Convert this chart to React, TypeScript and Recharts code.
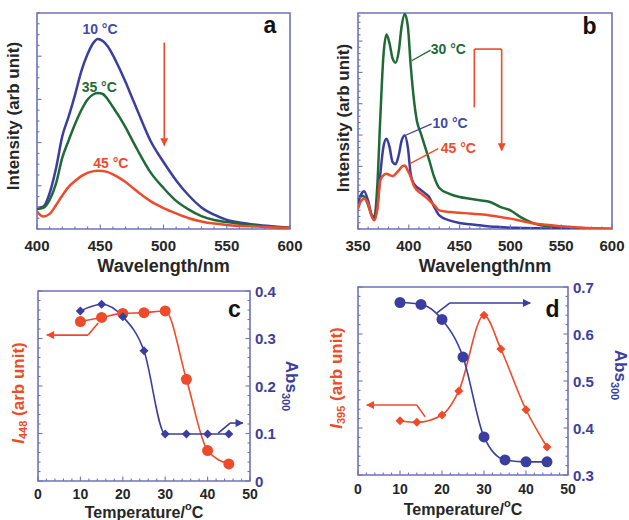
import React from "react";
import { LineChart, Line, XAxis, YAxis, ReferenceLine, ReferenceDot, ReferenceArea, Label } from "recharts";

const FONT = "'Liberation Sans', Arial, Helvetica, sans-serif";
const FRAME = "#6f72bd";
const INK = "#262626";
const BLUE = "#3b3e9f";
const GREEN = "#1f6a36";
const RED = "#ee4b2b";

// panel a: emission spectra (10, 35, 45 °C)
const aWave = [400, 405, 410, 415, 420, 425, 430, 435, 440, 445, 448, 452, 456, 460, 465, 470, 475, 480, 490, 500, 510, 520, 530, 540, 550, 560, 575, 590, 600];
const aT10 = [9.7, 10.4, 16.6, 28, 43, 52, 62, 73, 81, 86.5, 88, 87, 84.5, 80.5, 74.5, 68, 61, 54, 40.5, 31, 22.5, 15.5, 10, 6.6, 4.2, 3, 1.8, 1, 0.6];
const aT35 = [9.2, 9.8, 13.5, 21, 33, 41, 48.5, 55, 60, 62.5, 63, 62.5, 60, 56.5, 52, 47, 41.5, 36, 26, 19, 13, 9, 6, 4.2, 3.2, 2.4, 1.5, 0.8, 0.5];
const aT45 = [8.1, 5.8, 7, 11, 15.5, 19.5, 22.2, 24.5, 26, 26.8, 27, 26.9, 26.3, 25.3, 23.7, 21.8, 19.4, 17, 12.8, 9.7, 7.2, 5, 3.5, 2.5, 1.9, 1.5, 1.1, 0.7, 0.5];

// panel b: emission spectra (30, 10, 45 °C)
const bWave = [350, 353, 356, 360, 363, 366, 369, 372, 375, 378, 381, 384, 387, 390, 393, 396, 399, 402, 405, 408, 412, 416, 420, 425, 430, 440, 450, 460, 470, 480, 490, 500, 510, 520, 530, 540, 550, 560, 580, 600];
const bT30 = [13.3, 15.5, 15, 11, 7, 5.5, 20, 52, 80, 90, 86, 79, 77, 82, 94, 99.5, 94, 75, 60, 50, 44, 38, 32, 24, 19, 16.3, 14.8, 14, 13.3, 12.5, 10.2, 8.6, 5.5, 3.2, 1.7, 1.2, 0.9, 0.6, 0.3, 0];
const bT10 = [11.7, 16, 17.5, 13, 7, 4.8, 10, 25.6, 38, 41.8, 38, 31, 30, 34, 41, 43.3, 38, 25, 21, 19.4, 18, 16.5, 14.8, 10.2, 6.3, 4, 2.8, 2.2, 1.7, 1.2, 0.9, 0.6, 0.5, 0.4, 0.3, 0.2, 0.2, 0.1, 0, 0];
const bT45 = [9.4, 13, 14, 11.7, 6.5, 4, 9, 22.5, 24.8, 25.6, 25, 24.5, 25.5, 27, 28.8, 29.4, 27, 24, 20, 18, 16.5, 15, 13.3, 11, 8.6, 7.9, 7.5, 7.2, 6.8, 6.3, 5.6, 4.8, 3.8, 2.8, 2.2, 1.7, 1.3, 0.9, 0.4, 0];

// panel c
const cTemp = [10, 15, 20, 25, 30, 35, 40, 45];
const cAbs300 = [0.358, 0.372, 0.346, 0.274, 0.099, 0.099, 0.099, 0.099];
const cI448 = [83.9, 86.1, 88.2, 88.6, 89.5, 53.5, 16, 9];

// panel d
const dTempAbs = [10, 15, 20, 25, 30, 35, 40, 45];
const dAbs300 = [0.667, 0.663, 0.631, 0.551, 0.381, 0.332, 0.328, 0.328];
const dTempI = [10, 14, 20, 24, 30, 34, 40, 45];
const dI395 = [28.9, 28, 31.9, 44.7, 85, 67, 34.7, 14.9];

// tick positions
const aXMajor = [400, 450, 500, 550, 600];
const bXMajor = [350, 400, 450, 500, 550, 600];
const tXMajor = [0, 10, 20, 30, 40, 50];
const aYMajor = [20, 40, 60, 80];
const bYMajor = [14.5, 29, 43.5, 58, 72.5, 87];
const iMajor = [0, 25, 50, 75, 100];
const cAbsMajor = [0, 0.1, 0.2, 0.3, 0.4];
const dAbsMajor = [0.3, 0.4, 0.5, 0.6, 0.7];

const steps = (a: number, b: number, s: number) => {
  const out: number[] = [];
  for (let v = a; v <= b + 1e-9; v += s) out.push(Math.round(v * 1000) / 1000);
  return out;
};

const aXTicks = steps(400, 600, 10);
const bXTicks = steps(350, 600, 10);
const tXTicks = steps(0, 50, 2);
const aYTicks = steps(0, 100, 5);
const bYTicks = steps(0, 99, 2.9);
const iTicks = steps(0, 100, 5);
const cAbsTicks = steps(0, 0.4, 0.02);
const dAbsTicks = steps(0.3, 0.7, 0.02);

const aRows = aWave.map((w, i) => ({ w, t10: aT10[i], t35: aT35[i], t45: aT45[i] }));
const bRows = bWave.map((w, i) => ({ w, t30: bT30[i], t10: bT10[i], t45: bT45[i] }));
const cAbsRows = cTemp.map((t, i) => ({ t, v: cAbs300[i] }));
const cIRows = cTemp.map((t, i) => ({ t, v: cI448[i] }));
const dAbsRows = dTempAbs.map((t, i) => ({ t, v: dAbs300[i] }));
const dIRows = dTempI.map((t, i) => ({ t, v: dI395[i] }));

type Side = "bottom" | "top" | "left" | "right";
type TickCfg = { side: Side; major: number[]; label?: boolean; gap?: number; color?: string; size?: number; fmt?: (v: number) => string };

const frameTick = (cfg: TickCfg) => (p: any) => {
  const { x, y, payload, index } = p;
  const v = Number(payload.value);
  const big = cfg.major.some((m) => Math.abs(m - v) < 1e-6);
  const len = big ? 4.5 : 2.5;
  const dx = cfg.side === "left" ? len : cfg.side === "right" ? -len : 0;
  const dy = cfg.side === "bottom" ? -len : cfg.side === "top" ? len : 0;
  const txt = cfg.fmt ? cfg.fmt(v) : String(v);
  const show = cfg.label && big;
  const fs = cfg.size ?? 15;
  return (
    <g key={`tk-${index}`}>
      <line x1={x} y1={y} x2={x + dx} y2={y + dy} stroke={FRAME} strokeWidth={1.1} />
      {show && cfg.side === "bottom" && (
        <text x={x} y={y + (cfg.gap ?? 16)} textAnchor="middle" dominantBaseline="central" fill={cfg.color ?? INK} fontSize={fs} fontWeight={700} fontFamily={FONT}>
          {txt}
        </text>
      )}
      {show && cfg.side === "right" && (
        <text x={x + (cfg.gap ?? 5)} y={y} textAnchor="start" dominantBaseline="central" fill={cfg.color ?? INK} fontSize={fs} fontWeight={700} fontFamily={FONT}>
          {txt}
        </text>
      )}
    </g>
  );
};

const axisBase = {
  type: "number" as const,
  tickSize: 0,
  tickMargin: 0,
  interval: 0 as const,
  tickLine: false,
  axisLine: false,
  allowDataOverflow: true,
};

const xTitle = (body: React.ReactNode, dy: number, size: number) => (p: any) => {
  const vb = p.viewBox;
  return (
    <text x={vb.x + vb.width / 2} y={vb.y + dy} textAnchor="middle" dominantBaseline="central" fill={INK} fontSize={size} fontWeight={700} fontFamily={FONT}>
      {body}
    </text>
  );
};

const yTitle = (body: React.ReactNode, dx: number, cy: number, color: string, rot: number) => (p: any) => {
  const vb = p.viewBox;
  const x = vb.x + dx;
  return (
    <text transform={`translate(${x},${cy}) rotate(${rot})`} textAnchor="middle" dominantBaseline="central" fill={color} fontSize={17} fontWeight={700} fontFamily={FONT}>
      {body}
    </text>
  );
};

const tag = (text: string, color: string, size = 14) => (p: any) => {
  const vb = p.viewBox;
  const cx = vb.x + vb.width / 2;
  const cy = vb.y + vb.height / 2;
  return (
    <text x={cx} y={cy} textAnchor="middle" dominantBaseline="central" fill={color} fontSize={size} fontWeight={700} fontFamily={FONT}>
      {text}
    </text>
  );
};

const seg = (color: string, head: boolean, w = 1.6) => (p: any) => (
  <line x1={p.x1} y1={p.y1} x2={p.x2} y2={p.y2} stroke={color} strokeWidth={w} markerEnd={head ? `url(#head-${color === RED ? "r" : "b"})` : undefined} />
);

const diamond = (color: string, s: number) => (p: any) => (
  <path key={`dm-${p.index}`} d={`M${p.cx},${p.cy - s}L${p.cx + s},${p.cy}L${p.cx},${p.cy + s}L${p.cx - s},${p.cy}Z`} fill={color} />
);

const tempTitle = (
  <>
    Temperature/<tspan dy={-6} fontSize={11}>o</tspan>
    <tspan dy={6}>C</tspan>
  </>
);

const absTitle = (
  <>
    Abs<tspan dy={5} fontSize={11}>300</tspan>
  </>
);

const iTitle = (sub: string) => (
  <>
    <tspan fontStyle="italic">I</tspan>
    <tspan dy={5} fontSize={11}>{sub}</tspan>
    <tspan dy={-5}> (arb unit)</tspan>
  </>
);

const fmtAbs = (v: number) => (v === 0 ? "0" : v.toFixed(1));

const box = (left: number, top: number): React.CSSProperties => ({ position: "absolute", left, top });

export default function App() {
  return (
    <div style={{ position: "absolute", left: 0, top: 0, width: 629, height: 520, background: "#fff", overflow: "hidden" }}>
      <svg width={0} height={0} style={{ position: "absolute" }}>
        <defs>
          <marker id="head-r" viewBox="0 0 10 10" refX="9" refY="5" markerWidth="5.5" markerHeight="5" orient="auto">
            <path d="M0,0 L10,5 L0,10 z" fill={RED} />
          </marker>
          <marker id="head-b" viewBox="0 0 10 10" refX="9" refY="5" markerWidth="5.5" markerHeight="5" orient="auto">
            <path d="M0,0 L10,5 L0,10 z" fill={BLUE} />
          </marker>
        </defs>
      </svg>

      {/* a */}
      <div style={box(0, 0)}>
        <LineChart width={315} height={280} data={aRows} margin={{ top: 13, right: 25, left: 0, bottom: 0 }}>
          <XAxis dataKey="w" domain={[400, 600]} ticks={aXTicks} height={51} tick={frameTick({ side: "bottom", major: aXMajor, label: true, gap: 16 })} {...axisBase}>
            <Label content={xTitle("Wavelength/nm", 37, 18)} />
          </XAxis>
          <XAxis xAxisId="t" orientation="top" dataKey="w" domain={[400, 600]} ticks={aXTicks} height={0} tick={frameTick({ side: "top", major: aXMajor })} {...axisBase} />
          <YAxis domain={[0, 100]} ticks={aYTicks} width={37} tick={frameTick({ side: "left", major: aYMajor })} {...axisBase}>
            <Label content={yTitle("Intensity (arb unit)", 13, 116, INK, -90)} />
          </YAxis>
          <YAxis yAxisId="r" orientation="right" domain={[0, 100]} ticks={aYTicks} width={0} tick={frameTick({ side: "right", major: aYMajor })} {...axisBase} />
          <ReferenceArea x1={400} x2={600} y1={0} y2={100} fill="none" stroke={FRAME} strokeWidth={1.6} />
          <Line dataKey="t10" type="monotone" stroke={BLUE} strokeWidth={2.5} dot={false} isAnimationActive={false} />
          <Line dataKey="t35" type="monotone" stroke={GREEN} strokeWidth={2.5} dot={false} isAnimationActive={false} />
          <Line dataKey="t45" type="monotone" stroke={RED} strokeWidth={2.5} dot={false} isAnimationActive={false} />
          <ReferenceLine segment={[{ x: 500.6, y: 86.3 }, { x: 500.6, y: 38.7 }]} shape={seg(RED, true)} />
          <ReferenceDot x={449.8} y={92.6} r={0} fill="none" stroke="none" label={{ content: tag("10 °C", "#4548ad") }} />
          <ReferenceDot x={449.2} y={65.7} r={0} fill="none" stroke="none" label={{ content: tag("35 °C", GREEN) }} />
          <ReferenceDot x={458.4} y={30.4} r={0} fill="none" stroke="none" label={{ content: tag("45 °C", RED) }} />
          <ReferenceDot x={584.2} y={94.5} r={0} fill="none" stroke="none" label={{ content: tag("a", "#111", 23) }} />
        </LineChart>
      </div>

      {/* b */}
      <div style={box(315, 0)}>
        <LineChart width={314} height={280} data={bRows} margin={{ top: 13, right: 17, left: 0, bottom: 0 }}>
          <XAxis dataKey="w" domain={[350, 600]} ticks={bXTicks} height={51} tick={frameTick({ side: "bottom", major: bXMajor, label: true, gap: 16 })} {...axisBase}>
            <Label content={xTitle("Wavelength/nm", 37, 18)} />
          </XAxis>
          <XAxis xAxisId="t" orientation="top" dataKey="w" domain={[350, 600]} ticks={bXTicks} height={0} tick={frameTick({ side: "top", major: bXMajor })} {...axisBase} />
          <YAxis domain={[0, 100]} ticks={bYTicks} width={43} tick={frameTick({ side: "left", major: bYMajor })} {...axisBase}>
            <Label content={yTitle("Intensity (arb unit)", 28, 118, INK, -90)} />
          </YAxis>
          <YAxis yAxisId="r" orientation="right" domain={[0, 100]} ticks={bYTicks} width={0} tick={frameTick({ side: "right", major: bYMajor })} {...axisBase} />
          <ReferenceArea x1={350} x2={600} y1={0} y2={100} fill="none" stroke={FRAME} strokeWidth={1.6} />
          <Line dataKey="t30" type="monotone" stroke={GREEN} strokeWidth={2.5} dot={false} isAnimationActive={false} />
          <Line dataKey="t10" type="monotone" stroke={BLUE} strokeWidth={2.5} dot={false} isAnimationActive={false} />
          <Line dataKey="t45" type="monotone" stroke={RED} strokeWidth={2.5} dot={false} isAnimationActive={false} />
          <ReferenceLine segment={[{ x: 402.8, y: 77.9 }, { x: 421.5, y: 82.8 }]} shape={seg(GREEN, false, 1.3)} />
          <ReferenceLine segment={[{ x: 396.3, y: 43.3 }, { x: 422.5, y: 48.7 }]} shape={seg(BLUE, false, 1.3)} />
          <ReferenceLine segment={[{ x: 401.2, y: 30.3 }, { x: 429, y: 37.2 }]} shape={seg(RED, false, 1.3)} />
          <ReferenceLine segment={[{ x: 464.5, y: 56.3 }, { x: 464.5, y: 83.3 }]} shape={seg(RED, false)} />
          <ReferenceLine segment={[{ x: 464.5, y: 83.3 }, { x: 491.4, y: 83.3 }]} shape={seg(RED, false)} />
          <ReferenceLine segment={[{ x: 491.4, y: 83.3 }, { x: 491.4, y: 36.4 }]} shape={seg(RED, true)} />
          <ReferenceDot x={438.9} y={83.4} r={0} fill="none" stroke="none" label={{ content: tag("30 °C", GREEN) }} />
          <ReferenceDot x={440.6} y={49.1} r={0} fill="none" stroke="none" label={{ content: tag("10 °C", "#4548ad") }} />
          <ReferenceDot x={448.7} y={37.3} r={0} fill="none" stroke="none" label={{ content: tag("45 °C", RED) }} />
          <ReferenceDot x={577.9} y={94} r={0} fill="none" stroke="none" label={{ content: tag("b", "#111", 23) }} />
        </LineChart>
      </div>

      {/* c */}
      <div style={box(0, 280)}>
        <LineChart width={315} height={240} margin={{ top: 11, right: 0, left: 0, bottom: 0 }}>
          <XAxis dataKey="t" domain={[0, 50]} ticks={tXTicks} height={39} tick={frameTick({ side: "bottom", major: tXMajor, label: true, gap: 13, size: 14 })} {...axisBase}>
            <Label content={xTitle(tempTitle, 31, 16)} />
          </XAxis>
          <XAxis xAxisId="t" orientation="top" dataKey="t" domain={[0, 50]} ticks={tXTicks} height={0} tick={frameTick({ side: "top", major: tXMajor })} {...axisBase} />
          <YAxis yAxisId="i" domain={[0, 100]} ticks={iTicks} width={38} tick={frameTick({ side: "left", major: iMajor })} {...axisBase}>
            <Label content={yTitle(iTitle("448"), 18, 113, RED, -90)} />
          </YAxis>
          <YAxis yAxisId="abs" orientation="right" domain={[0, 0.4]} ticks={cAbsTicks} width={65} tick={frameTick({ side: "right", major: cAbsMajor, label: true, gap: 5, color: BLUE, fmt: fmtAbs })} {...axisBase}>
            <Label content={yTitle(absTitle, 41, 106, BLUE, 90)} />
          </YAxis>
          <ReferenceArea yAxisId="i" x1={0} x2={50} y1={0} y2={100} fill="none" stroke={FRAME} strokeWidth={1.6} />
          <Line data={cIRows} dataKey="v" yAxisId="i" type="monotone" stroke={RED} strokeWidth={1.6} dot={{ r: 5.5, fill: RED, stroke: RED, strokeWidth: 0 }} isAnimationActive={false} />
          <Line data={cAbsRows} dataKey="v" yAxisId="abs" type="monotone" stroke={BLUE} strokeWidth={1.6} dot={diamond(BLUE, 4.5)} isAnimationActive={false} />
          <ReferenceLine yAxisId="i" segment={[{ x: 14.2, y: 83.2 }, { x: 11.8, y: 76.8 }]} shape={seg(RED, false)} />
          <ReferenceLine yAxisId="i" segment={[{ x: 11.8, y: 76.8 }, { x: 2.1, y: 76.8 }]} shape={seg(RED, true)} />
          <ReferenceLine yAxisId="abs" segment={[{ x: 42.5, y: 0.101 }, { x: 45.3, y: 0.122 }]} shape={seg(BLUE, false)} />
          <ReferenceLine yAxisId="abs" segment={[{ x: 45.3, y: 0.122 }, { x: 48.3, y: 0.122 }]} shape={seg(BLUE, true)} />
          <ReferenceDot yAxisId="abs" x={46.3} y={0.362} r={0} fill="none" stroke="none" label={{ content: tag("c", "#111", 23) }} />
        </LineChart>
      </div>

      {/* d */}
      <div style={box(315, 280)}>
        <LineChart width={314} height={240} margin={{ top: 7, right: 0, left: 0, bottom: 0 }}>
          <XAxis dataKey="t" domain={[0, 50]} ticks={tXTicks} height={45} tick={frameTick({ side: "bottom", major: tXMajor, label: true, gap: 14, size: 14 })} {...axisBase}>
            <Label content={xTitle(tempTitle, 34, 16)} />
          </XAxis>
          <XAxis xAxisId="t" orientation="top" dataKey="t" domain={[0, 50]} ticks={tXTicks} height={0} tick={frameTick({ side: "top", major: tXMajor })} {...axisBase} />
          <YAxis yAxisId="i" domain={[0, 100]} ticks={iTicks} width={43} tick={frameTick({ side: "left", major: iMajor })} {...axisBase}>
            <Label content={yTitle(iTitle("395"), 20.5, 98, RED, -90)} />
          </YAxis>
          <YAxis yAxisId="abs" orientation="right" domain={[0.3, 0.7]} ticks={dAbsTicks} width={61} tick={frameTick({ side: "right", major: dAbsMajor, label: true, gap: 5, color: BLUE, fmt: fmtAbs })} {...axisBase}>
            <Label content={yTitle(absTitle, 52, 95, BLUE, 90)} />
          </YAxis>
          <ReferenceArea yAxisId="i" x1={0} x2={50} y1={0} y2={100} fill="none" stroke={FRAME} strokeWidth={1.6} />
          <Line data={dIRows} dataKey="v" yAxisId="i" type="monotone" stroke={RED} strokeWidth={1.6} dot={diamond(RED, 4.5)} isAnimationActive={false} />
          <Line data={dAbsRows} dataKey="v" yAxisId="abs" type="monotone" stroke={BLUE} strokeWidth={1.6} dot={{ r: 5.5, fill: BLUE, stroke: BLUE, strokeWidth: 0 }} isAnimationActive={false} />
          <ReferenceLine yAxisId="abs" segment={[{ x: 18.8, y: 0.645 }, { x: 21.9, y: 0.666 }]} shape={seg(BLUE, false)} />
          <ReferenceLine yAxisId="abs" segment={[{ x: 21.9, y: 0.666 }, { x: 41, y: 0.666 }]} shape={seg(BLUE, true)} />
          <ReferenceLine yAxisId="i" segment={[{ x: 16, y: 30.9 }, { x: 14, y: 37.2 }]} shape={seg(RED, false)} />
          <ReferenceLine yAxisId="i" segment={[{ x: 14, y: 37.2 }, { x: 2.1, y: 37.2 }]} shape={seg(RED, true)} />
          <ReferenceDot yAxisId="abs" x={46.3} y={0.654} r={0} fill="none" stroke="none" label={{ content: tag("d", "#111", 23) }} />
        </LineChart>
      </div>
    </div>
  );
}
